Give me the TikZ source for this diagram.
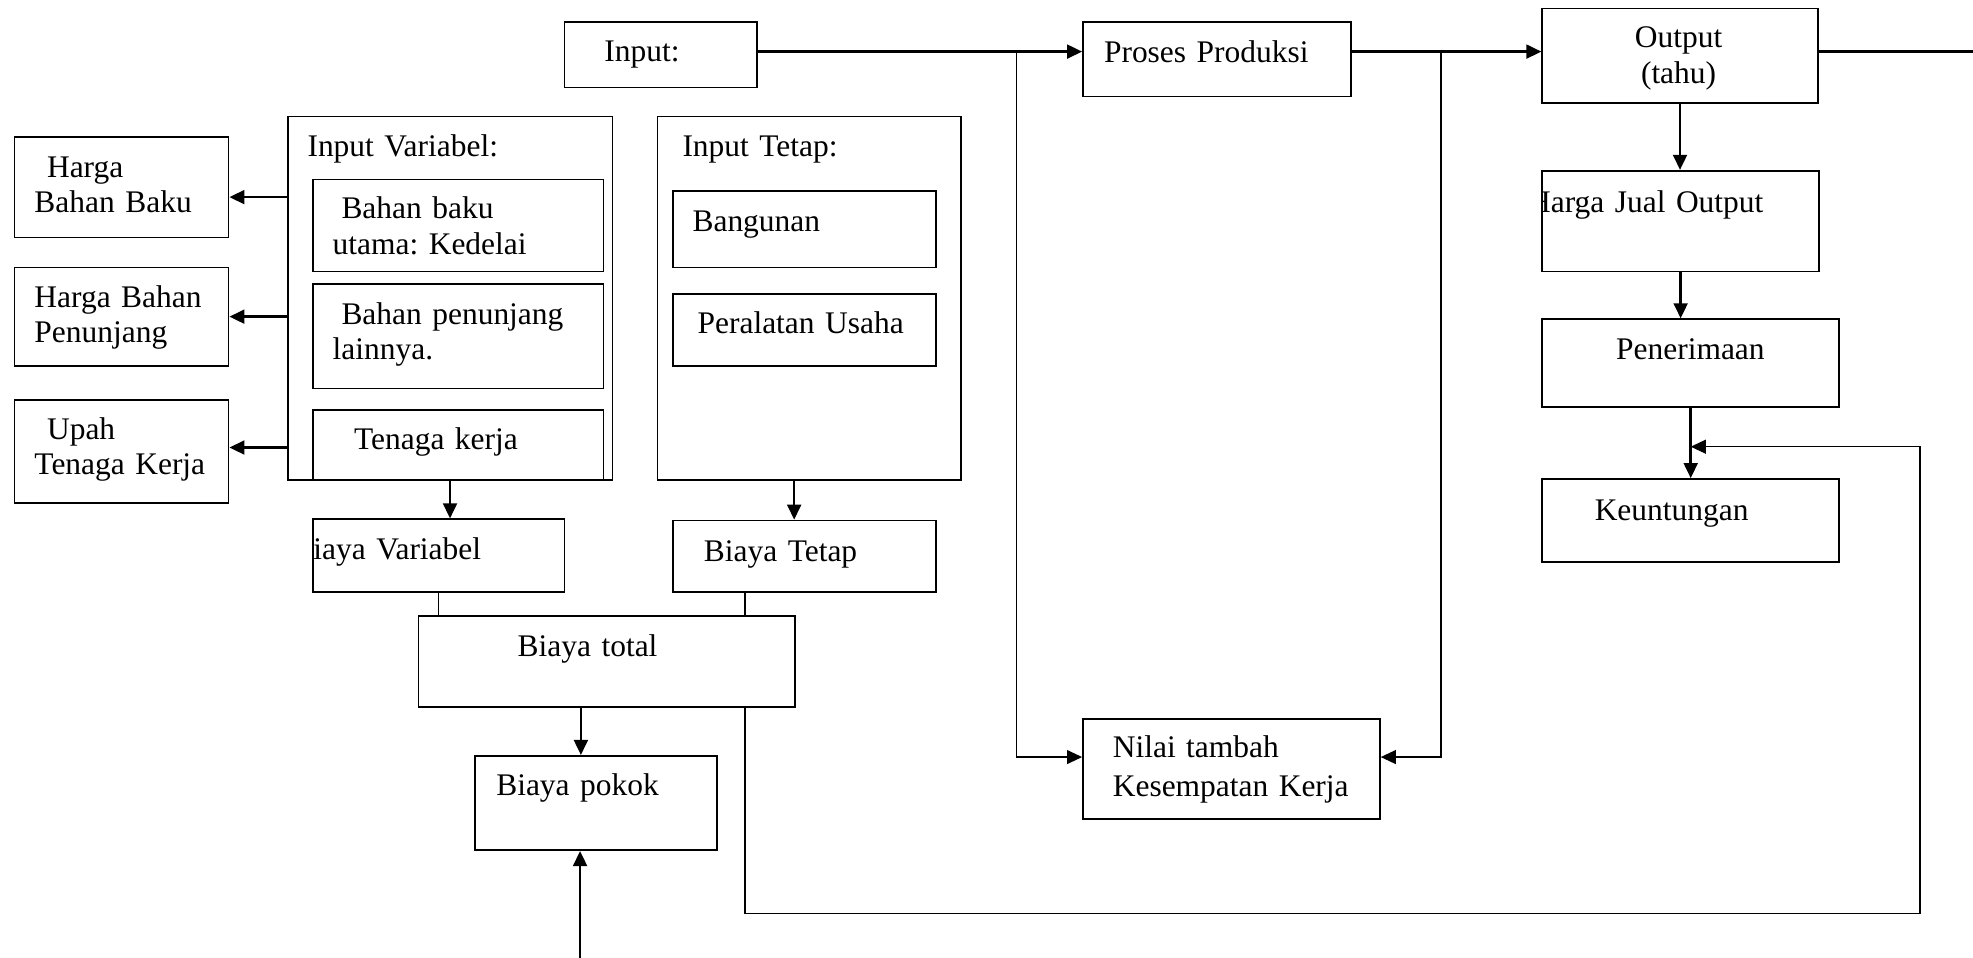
\documentclass[tikz,border=0pt]{standalone}
\usepackage{fontspec}
\setmainfont{Liberation Serif}
\usetikzlibrary{arrows.meta}
\frenchspacing

\begin{document}
\begin{tikzpicture}[x=0.5pt, y=-0.5pt,
    font=\fontsize{12.5}{14}\selectfont,
    box/.style={draw, line width=0.65pt, anchor=north west, inner sep=0pt},
    txt/.style={anchor=base west, inner sep=0pt, align=left, text width=120pt},
    ctr/.style={anchor=base, inner sep=0pt, align=center, text width=100pt},
    arr/.style={line width=1pt, -{Triangle[length=6pt, width=5.5pt]}},
    thinarr/.style={line width=0.6pt, -{Triangle[length=6pt, width=5.5pt]}},
    ln/.style={line width=0.6pt}]
  \useasboundingbox (0,0) rectangle (1568,761);

  % top row
  \node[box, minimum width=76.5pt, minimum height=26pt] (inp) at (448,17) {};
  \node[txt] (inpt) at (480,49) {Input:};
  \node[box, minimum width=106.5pt, minimum height=29.5pt] (pp) at (860,17) {};
  \node[txt] (ppt) at (877,50) {Proses Produksi};
  \node[box, minimum width=109.5pt, minimum height=37.5pt] (out) at (1225,6) {};
  \node[ctr] (outt) at (1334,38) {Output\\(tahu)};

  % right column
  \node[box, minimum width=110pt, minimum height=40pt] (hjo) at (1225,135) {};
  \begin{scope}
    \clip (hjo.north west) rectangle (hjo.south east);
    \node[txt] (hjot) at (1214,169) {Harga Jual Output};
  \end{scope}
  \node[box, minimum width=118pt, minimum height=35pt] (pen) at (1225,253) {};
  \node[txt] (pent) at (1284,286) {Penerimaan};
  \node[box, minimum width=118pt, minimum height=33pt] (keu) at (1225,380) {};
  \node[txt] (keut) at (1267,414) {Keuntungan};

  % harga boxes
  \node[box, minimum width=85pt, minimum height=40pt] (hbb) at (11,108) {};
  \node[txt] (hbbt) at (27,141) {\hspace*{5pt}Harga\\Bahan Baku};
  \node[box, minimum width=85pt, minimum height=39pt] (hbp) at (11,212) {};
  \node[txt] (hbpt) at (27,244) {Harga Bahan\\Penunjang};
  \node[box, minimum width=85pt, minimum height=41pt] (utk) at (11,317) {};
  \node[txt] (utkt) at (27,349) {\hspace*{5pt}Upah\\Tenaga Kerja};

  % input variabel
  \node[box, minimum width=129pt, minimum height=144.5pt] (iv) at (228,92) {};
  \node[txt] (ivt) at (244,124) {Input Variabel:};
  \node[box, minimum width=115.5pt, minimum height=36.5pt] (bbu) at (248,142) {};
  \node[txt] (bbut) at (264,174) {\hspace*{3.5pt}Bahan baku\\utama: Kedelai};
  \node[box, minimum width=115.5pt, minimum height=41.5pt] (bpl) at (248,225) {};
  \node[txt] (bplt) at (264,258) {\hspace*{3.5pt}Bahan penunjang\\lainnya.};
  \node[box, minimum width=115.5pt, minimum height=28pt] (tk) at (248,325) {};
  \node[txt] (tkt) at (281,357) {Tenaga kerja};

  % input tetap
  \node[box, minimum width=120.5pt, minimum height=144.5pt] (it) at (522,92) {};
  \node[txt] (itt) at (542,124) {Input Tetap:};
  \node[box, minimum width=104.5pt, minimum height=30.5pt] (bang) at (534,151) {};
  \node[txt] (bangt) at (550,184) {Bangunan};
  \node[box, minimum width=104.5pt, minimum height=28.5pt] (pu) at (534,233) {};
  \node[txt] (put) at (554,265) {Peralatan Usaha};

  % biaya
  \node[box, minimum width=100pt, minimum height=29pt] (bv) at (248,412) {};
  \begin{scope}
    \clip (bv.north west) rectangle (bv.south east);
    \node[txt] (bvt) at (232,445) {Biaya Variabel};
  \end{scope}
  \node[box, minimum width=104.5pt, minimum height=28.5pt] (btp) at (534,413) {};
  \node[txt] (btpt) at (559,446) {Biaya Tetap};
  \node[box, minimum width=149.5pt, minimum height=36pt] (btot) at (332,489) {};
  \node[txt] (btott) at (411,522) {Biaya total};
  \node[box, minimum width=96pt, minimum height=37.5pt] (bpk) at (377,600) {};
  \node[txt] (bpkt) at (394,632) {Biaya pokok};

  % nilai tambah
  \node[box, minimum width=118pt, minimum height=39.5pt] (nt) at (860,571) {};
  \node[txt, font=\fontsize{12.5}{15.5}\selectfont] (ntt) at (884,602)
       {Nilai tambah\\Kesempatan Kerja};

  % connectors
  \coordinate (j1) at (808,41);
  \coordinate (j2) at (1145,41);
  \coordinate (oe) at (1568,41);
  \coordinate (fbl) at (592,726);
  \coordinate (fbr) at (1526,355);
  \coordinate (bin) at (461,761);

  \draw[arr] (inp.east |- j1) -- (pp.west |- j1);
  \draw[arr] (pp.east |- j1) -- (out.west |- j1);
  \draw[arr, -] (out.east |- j1) -- (oe);
  \draw[thinarr] (j1) |- ([yshift=4.75pt]nt.west);
  \draw[thinarr] (j2) |- ([yshift=4.75pt]nt.east);

  \draw[arr] (out.south) -- (out.south |- hjo.north);
  \draw[arr] (hjo.south) -- (hjo.south |- pen.north);
  \draw[arr] (pen.south) -- (pen.south |- keu.north);

  \draw[arr] ([yshift=-4pt]hbb.east -| iv.west) -- ([yshift=-4pt]hbb.east);
  \draw[arr] (hbp.east -| iv.west) -- (hbp.east);
  \draw[arr] ([yshift=1.5pt]utk.east -| iv.west) -- ([yshift=1.5pt]utk.east);

  \draw[arr] (iv.south) -- (iv.south |- bv.north);
  \draw[arr] ([xshift=-6pt]it.south) -- ([xshift=-6pt]it.south |- btp.north);
  \draw[ln] (bv.south) -- (bv.south |- btot.north);
  \draw[ln] (btp.south -| fbl) -- (btot.north -| fbl);
  \draw[arr] ([xshift=-6pt]bpk.north |- btot.south) -- ([xshift=-6pt]bpk.north);
  \draw[arr] (bin) -- (bin |- bpk.south);

  \draw[thinarr] (btot.south -| fbl) -- (fbl) -| (fbr) -- (fbr -| pen.south);
\end{tikzpicture}
\end{document}
